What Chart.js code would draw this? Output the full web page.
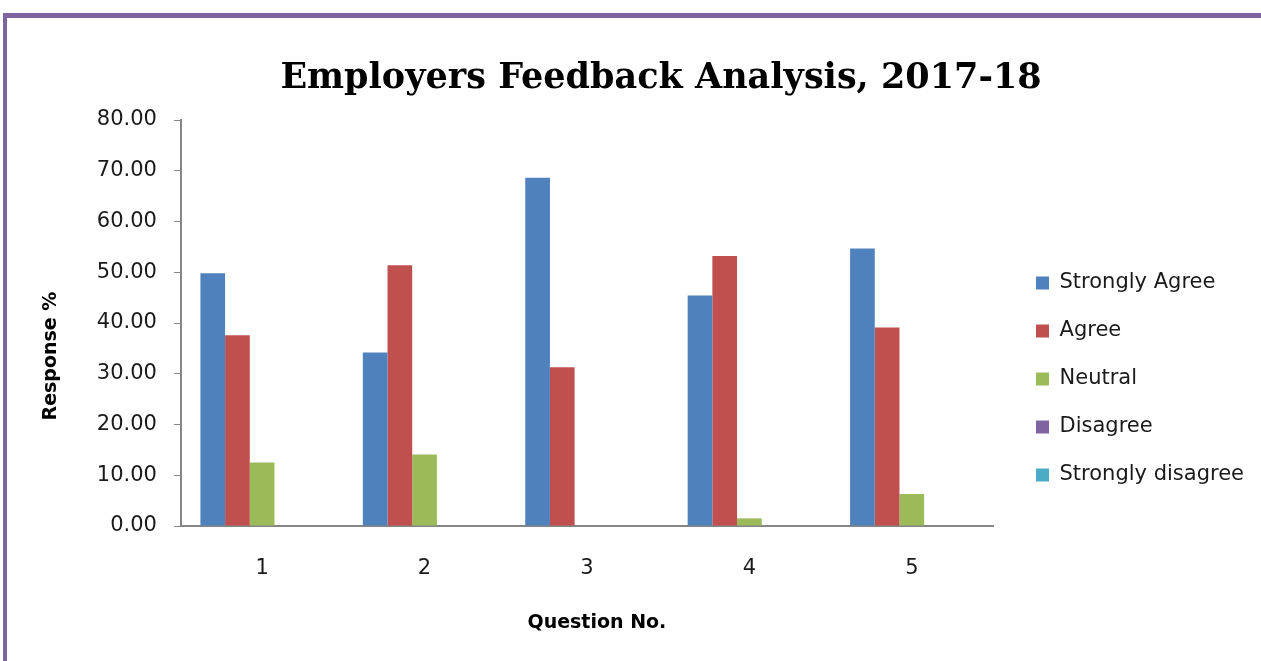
<!DOCTYPE html>
<html>
<head>
<meta charset="utf-8">
<title>Employers Feedback Analysis, 2017-18</title>
<script src="https://cdn.jsdelivr.net/npm/chart.js@4.4.1/dist/chart.umd.min.js"></script>
<style>
    html, body { margin: 0; padding: 0; background: #fff; overflow: hidden; }
    #frame {
        position: absolute;
        left: 3px; top: 13px;
        width: 1290px; height: 652px;
        border-top: 5px solid #8064A2;
        border-left: 4px solid #8064A2;
    }
    /* canvas runs a little past the window on the right so the title centres like the original */
    #wrap { position: relative; width: 1275px; height: 643px; }
</style>
</head>
<body>
<div id="frame">
    <div id="wrap"><canvas id="feedback-chart"></canvas></div>
</div>
<script>
// Chart data
const questions = ['1', '2', '3', '4', '5'];
const stronglyAgree = [49.8, 34.2, 68.6, 45.4, 54.7];
const agree = [37.6, 51.4, 31.3, 53.2, 39.1];
const neutral = [12.5, 14.1, 0, 1.5, 6.3];
const disagree = [0, 0, 0, 0, 0];
const stronglyDisagree = [0, 0, 0, 0, 0];
const yTicks = [0, 10, 20, 30, 40, 50, 60, 70, 80];

const sansFont = "'DejaVu Sans', sans-serif";
const axisColor = '#868686';

function makeSet(label, data, color) {
    return {
        label: label,
        data: data,
        backgroundColor: color,
        borderWidth: 0,
        barPercentage: 1,
        categoryPercentage: 0.76
    };
}

// empty right-hand axis used only as spacing
function spacer(width, weight) {
    return {
        type: 'linear',
        position: 'right',
        weight: weight,
        grid: { display: false },
        border: { display: false },
        ticks: { display: false },
        afterFit: function(scale) { scale.width = width; }
    };
}

const ctx = document.getElementById('feedback-chart');
new Chart(ctx, {
    type: 'bar',
    data: {
        labels: questions,
        datasets: [
            makeSet('Strongly Agree', stronglyAgree, '#4F81BD'),
            makeSet('Agree', agree, '#C0504D'),
            makeSet('Neutral', neutral, '#9BBB59'),
            makeSet('Disagree', disagree, '#8064A2'),
            makeSet('Strongly disagree', stronglyDisagree, '#4BACC6')
        ]
    },
    options: {
        responsive: true,
        maintainAspectRatio: false,
        animation: false,
        layout: {
            padding: { left: 33, right: 0, top: 0, bottom: 27 }
        },
        plugins: {
            title: {
                display: true,
                text: 'Employers Feedback Analysis, 2017-18',
                color: '#000',
                font: { family: "'DejaVu Serif', serif", size: 35, weight: 'bold' },
                padding: { top: 40, bottom: 20 }
            },
            legend: {
                position: 'right',
                maxWidth: 320,
                title: {
                    display: true,
                    text: ' ',
                    font: { size: 10 },
                    padding: { top: 94, bottom: 0 }
                },
                labels: {
                    color: '#1a1a1a',
                    boxWidth: 13,
                    boxHeight: 13,
                    padding: 27,
                    font: { family: sansFont, size: 21 }
                }
            },
            tooltip: { enabled: false }
        },
        scales: {
            x: {
                grid: { display: false, drawTicks: false },
                border: { display: true, color: axisColor, width: 2 },
                ticks: {
                    color: '#1a1a1a',
                    padding: 30,
                    font: { family: sansFont, size: 21 }
                },
                title: {
                    display: true,
                    // the original title sits a little right of centre
                    text: '   Question No.',
                    color: '#000',
                    font: { family: sansFont, size: 19, weight: 'bold' },
                    padding: { top: 0, bottom: 0 }
                }
            },
            y: {
                min: 0,
                max: 80,
                afterBuildTicks: function(scale) {
                    scale.ticks = yTicks.map(v => ({ value: v }));
                },
                grid: {
                    drawOnChartArea: false,
                    drawTicks: true,
                    tickLength: 7,
                    color: axisColor,
                    lineWidth: 1
                },
                border: { display: true, color: axisColor, width: 2 },
                ticks: {
                    color: '#1a1a1a',
                    padding: 17,
                    font: { family: sansFont, size: 21 },
                    callback: function(value) {
                        return Number(value).toFixed(2);
                    }
                },
                title: {
                    display: true,
                    // trailing spaces push the label below centre, as in the original
                    text: 'Response %          ',
                    color: '#000',
                    font: { family: sansFont, size: 19, weight: 'bold' },
                    padding: { top: 0, bottom: 17 }
                }
            },
            gap: spacer(16, 0),
            edge: spacer(28, 3000)
        }
    }
});
</script>
</body>
</html>
